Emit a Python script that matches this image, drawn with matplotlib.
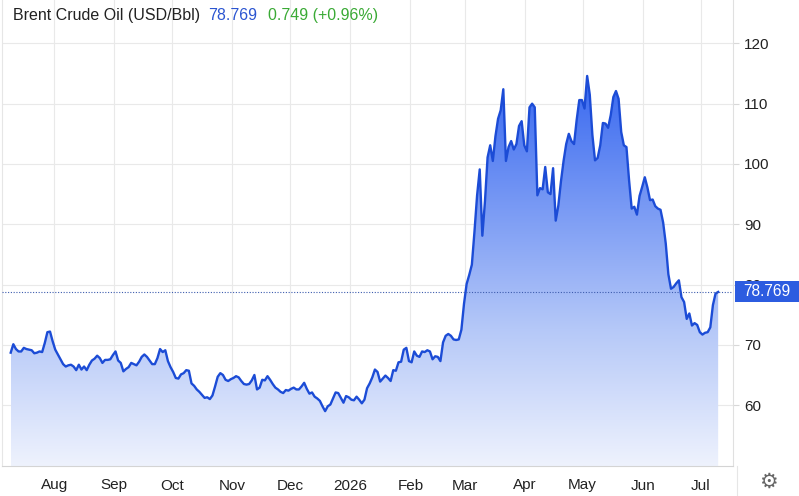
import numpy as np
import pandas as pd
import matplotlib.pyplot as plt
import matplotlib.dates as mdates
from matplotlib.colors import LinearSegmentedColormap
from matplotlib.patches import Rectangle
from matplotlib.lines import Line2D

plt.rcParams['font.family'] = ['Liberation Sans', 'DejaVu Sans']

# Brent crude daily closes, Jul 2025 - Jul 2026
price = [
    68.7, 70.1, 69.3, 68.9, 68.9, 69.5, 69.3, 69.2, 69.1, 68.6,
    68.7, 68.9, 68.8, 70.3, 72.1, 72.2, 70.6, 69.2, 68.4, 67.6,
    66.8, 66.4, 66.6, 66.7, 66.4, 65.8, 66.7, 65.9, 66.4, 65.8,
    66.7, 67.4, 67.7, 68.2, 67.8, 67.0, 67.5, 67.5, 67.6, 68.3,
    68.9, 67.4, 67.0, 65.6, 66.0, 66.3, 67.0, 66.8, 66.6, 67.2,
    68.0, 68.4, 68.0, 67.4,
    66.8, 66.8, 67.8, 69.3, 68.8, 69.1, 67.3, 66.3, 65.5, 64.5,
    64.4, 65.1, 65.3, 65.8, 65.7, 63.6, 63.2, 62.6, 62.2, 61.7,
    61.2, 61.3, 61.0, 61.6, 63.1, 64.7, 65.3, 65.0, 64.2, 64.0,
    64.3, 64.5, 64.8, 64.6, 64.0, 63.5, 63.4, 63.5, 64.1, 65.0,
    62.6, 62.9, 64.2, 64.1, 64.8, 64.2, 63.5, 62.9, 62.6, 62.2,
    62.0, 62.5, 62.4, 62.7, 62.9, 62.6,
    62.6, 63.1, 63.7, 62.7, 61.9, 62.1, 61.4, 61.1, 60.7, 59.8,
    59.0, 59.8, 60.1, 61.1, 62.1, 62.0, 61.2, 60.4, 61.5, 61.3,
    60.9, 60.8, 61.4, 60.9, 60.3, 60.9, 62.8, 63.6, 64.6, 65.9,
    65.5, 63.9, 64.4, 64.9, 64.5, 64.0, 65.8, 65.7, 67.1, 67.2,
    69.2, 69.5, 67.3, 67.1, 68.9, 68.2, 68.0, 68.9, 68.8, 69.1,
    68.9, 67.6, 68.1, 68.0, 67.3, 70.4, 71.5, 71.8, 71.5, 70.9,
    70.8, 70.9,
    72.5, 76.8, 80.1, 81.6, 83.3, 88.8, 94.8, 99.1, 88.1, 93.8,
    101.1, 103.1, 100.5, 104.6, 107.5, 108.9, 112.4, 100.5, 102.8, 103.8,
    102.4, 103.3, 106.3, 107.1, 103.1, 102.1, 109.4, 110.0, 109.4, 94.8,
    96.0, 95.8, 99.5, 95.3, 95.0, 99.3, 90.6, 93.1, 97.1, 100.5,
    103.3, 105.0, 103.8, 103.3, 107.3, 110.6, 110.6, 109.2, 114.6, 111.5,
    104.8, 100.6, 101.0, 103.1, 106.8, 106.7, 106.0, 108.1, 111.1, 112.1,
    110.8, 105.3, 103.1, 102.8, 97.3, 92.6, 92.9, 91.6, 94.7, 96.2,
    97.8, 96.1, 94.0, 94.1, 93.0, 92.6, 92.4, 90.3, 86.8, 81.7,
    79.3, 79.6, 80.2, 80.7, 77.9, 77.1, 74.3, 75.2, 73.2, 73.6,
    73.3, 72.1, 71.7, 72.0, 72.1, 72.9, 76.6, 78.5, 78.769,
]
last = 78.769
change = 0.749
change_pct = 0.96

dates = pd.date_range('2025-07-09 12:00', '2026-07-10', periods=len(price))
month_ticks = pd.date_range('2025-08-01', '2026-07-01', freq='MS')
month_labels = ['Aug', 'Sep', 'Oct', 'Nov', 'Dec', '2026',
                'Feb', 'Mar', 'Apr', 'May', 'Jun', 'Jul']

ymin, ymax = 49.9, 127.2
line_color = '#1c4cd6'

fig = plt.figure(figsize=(7.99, 4.96), dpi=100)
ax = fig.add_axes([2 / 799, 30 / 496, 731 / 799, 466 / 496])

x = mdates.date2num(dates)
xlo = mdates.date2num(pd.Timestamp('2025-07-05'))
xhi = mdates.date2num(pd.Timestamp('2026-07-17 16:00'))

# gradient under the line
cmap = LinearSegmentedColormap.from_list(
    'fade', [(0.0, '#eef2fd'), (0.35, '#b5c8f8'), (1.0, '#3868f0')])
poly = ax.fill_between(x, price, ymin, color='none', lw=0)
grad = np.linspace(0, 1, 256).reshape(-1, 1)
im = ax.imshow(grad, extent=[x[0], x[-1], ymin, max(price)], origin='lower',
               aspect='auto', cmap=cmap, zorder=1)
im.set_clip_path(poly.get_paths()[0], transform=ax.transData)

ax.plot(x, price, color=line_color, lw=1.7, zorder=3, solid_joinstyle='round')
ax.axhline(last, color='#3d5cae', lw=0.8, ls=(0, (1, 1.5)), zorder=4)

ax.set_xlim(xlo, xhi)
ax.set_ylim(ymin, ymax)

ax.set_yticks(range(60, 121, 10))
ax.yaxis.tick_right()
ax.tick_params(axis='y', length=4, color='#d8d8d8', labelcolor='#222222',
               labelsize=11, pad=4)
ax.set_xticks(mdates.date2num(month_ticks))
ax.set_xticklabels(month_labels)
ax.tick_params(axis='x', length=0, labelcolor='#222222', labelsize=11, pad=9)

ax.grid(True, color='#e9e9e9', lw=0.8, zorder=0)
ax.set_axisbelow(True)
ax.spines['top'].set_visible(False)
ax.spines['left'].set_color('#e6e6e6')
ax.spines['right'].set_color('#e0e0e0')
ax.spines['bottom'].set_color('#d4d4d4')

# short stub of the price axis below the plot
fig.add_artist(Line2D([737 / 799, 737 / 799], [0, 30 / 496], color='#e6e6e6', lw=0.8))

# last price tag (covers most of the "80" label, as in the source)
fig.add_artist(Rectangle((735 / 799, (496 - 302) / 496), 64 / 799, 21 / 496,
                         facecolor='#2c5ce0', edgecolor='none', zorder=5))
fig.text(767 / 799, (496 - 291.5) / 496, f'{last:.3f}', color='white',
         fontsize=11.2, ha='center', va='center', zorder=6)

# header
ty = (496 - 20) / 496
fig.text(12.7 / 799, ty, 'Brent Crude Oil (USD/Bbl)', color='#222222',
         fontsize=11.5, va='baseline')
fig.text(208.3 / 799, ty, f'{last:.3f}', color='#2b55d1', fontsize=11.5, va='baseline')
fig.text(267.7 / 799, ty, f'{change:.3f} (+{change_pct:.2f}%)', color='#3aaa35',
         fontsize=11.5, va='baseline')

# settings gear
fig.text(768 / 799, (496 - 482) / 496, '\u2699', color='#666666', fontsize=15,
         ha='center', va='center', family='DejaVu Sans')

fig.savefig('out.png', dpi=100)
